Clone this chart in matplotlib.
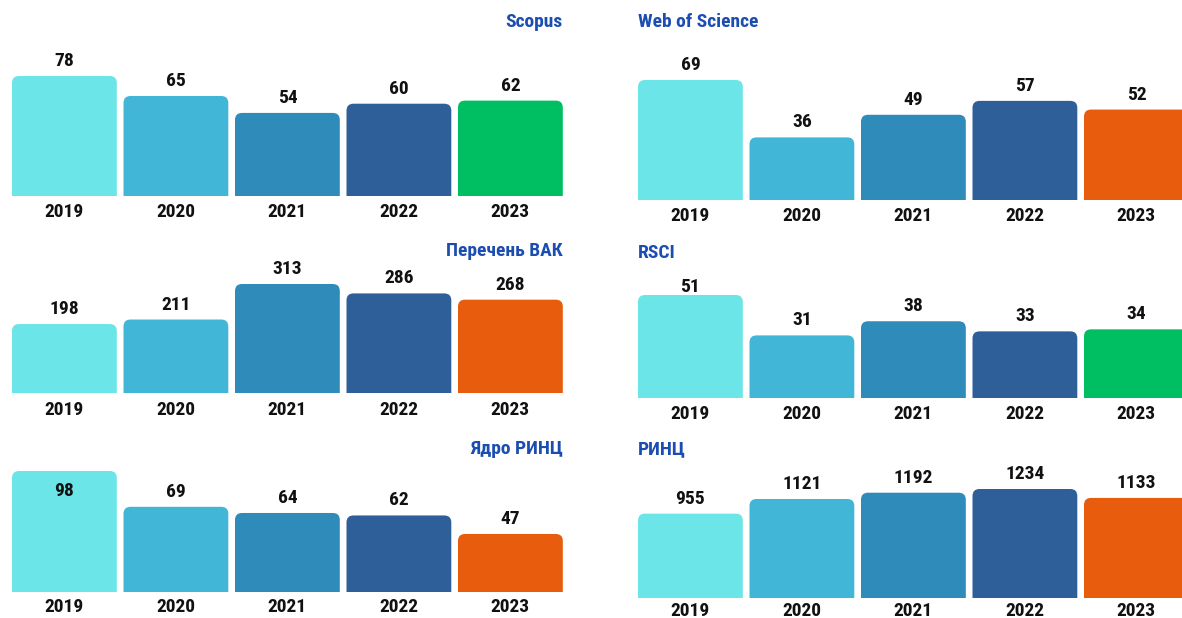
import matplotlib

matplotlib.use("Agg")
import matplotlib.pyplot as plt
from matplotlib import font_manager
from matplotlib.patches import FancyBboxPatch
from matplotlib.transforms import ScaledTranslation

YEARS = ["2019", "2020", "2021", "2022", "2023"]

TITLES = ["Scopus", "Web of Science", "Перечень ВАК", "RSCI", "Ядро РИНЦ", "РИНЦ"]
SCOPUS = [78, 65, 54, 60, 62]
WOS = [69, 36, 49, 57, 52]
VAK = [198, 211, 313, 286, 268]
RSCI = [51, 31, 38, 33, 34]
YADRO_RINC = [98, 69, 64, 62, 47]
RINC = [955, 1121, 1192, 1234, 1133]
SERIES = [SCOPUS, WOS, VAK, RSCI, YADRO_RINC, RINC]

BASE_COLORS = ["#6BE5E8", "#42B6D6", "#2E8BBA", "#2F5F98"]
GREEN = "#00BF63"
ORANGE = "#E85C0E"
LAST_COLORS = [GREEN, ORANGE, ORANGE, GREEN, ORANGE, ORANGE]
TITLE_COLOR = "#1C4DB0"
TEXT_COLOR = "#111111"

# layout, in reference pixels (1182 x 618)
W, H = 1182, 618
PANEL_LEFT = [12, 638, 12, 638, 12, 638]
PANEL_BASE = [196, 200, 393, 398, 592, 598]
PANEL_MAXH = [120, 120, 109, 103, 121, 109]
TITLE_Y = [22, 22, 251, 253, 449, 449]
LABEL_CEIL = [0, 0, 0, 287, 491, 0]
YEAR_OFFSET = [16, 16, 17, 16, 15, 13]
PITCH = 111.5
BAR_W = 0.94
RADIUS = 7
FS = 14


def pick_font(candidates):
    for name in candidates:
        try:
            font_manager.findfont(
                font_manager.FontProperties(family=name, weight="bold"),
                fallback_to_default=False,
            )
            return name
        except ValueError:
            continue
    return "DejaVu Sans"


FONT = pick_font(["Roboto Condensed", "Liberation Sans Narrow", "Open Sans Condensed", "Roboto"])
plt.rcParams["font.family"] = [FONT, "DejaVu Sans"]

fig = plt.figure(figsize=(W / 100, H / 100), dpi=100)
fig.patch.set_facecolor("white")

span = (len(YEARS) - 1) + BAR_W  # data units across the bars
for k, vals in enumerate(SERIES):
    width_px = span * PITCH
    ax = fig.add_axes([PANEL_LEFT[k] / W, 1 - PANEL_BASE[k] / H, width_px / W, PANEL_MAXH[k] / H])
    vmax = max(vals)
    ax.set_xlim(-BAR_W / 2, len(YEARS) - 1 + BAR_W / 2)
    ax.set_ylim(0, vmax)
    ax.axis("off")

    colors = BASE_COLORS + [LAST_COLORS[k]]
    x = list(range(len(YEARS)))
    bars = ax.bar(x, vals, width=BAR_W, color=colors)

    # swap plain bars for ones with rounded tops (bottom part clipped by the axes)
    xpp = span / width_px
    ypp = vmax / PANEL_MAXH[k]
    for b in bars:
        x0, w, h = b.get_x(), b.get_width(), b.get_height()
        b.remove()
        ext = 3 * RADIUS * ypp
        patch = FancyBboxPatch(
            (x0, -ext), w, h + ext,
            boxstyle=f"round,pad=0,rounding_size={RADIUS * xpp}",
            mutation_aspect=ypp / xpp,
            facecolor=b.get_facecolor(), edgecolor="none",
        )
        ax.add_patch(patch)

    year_tr = ax.get_xaxis_transform() + ScaledTranslation(0, -YEAR_OFFSET[k] / 100, fig.dpi_scale_trans)
    for i, v in enumerate(vals):
        top_disp = ax.transData.transform((i, v))[1]
        y_disp = top_disp + 15
        if LABEL_CEIL[k]:
            y_disp = min(y_disp, H - LABEL_CEIL[k])
        y = ax.transData.inverted().transform((0, y_disp))[1]
        ax.text(i, y, str(v), ha="center", va="center", fontsize=FS,
                fontweight="bold", color=TEXT_COLOR, clip_on=False)
        ax.text(i, 0, YEARS[i], ha="center", va="center", fontsize=FS,
                fontweight="bold", color=TEXT_COLOR, clip_on=False, transform=year_tr)

    if k % 2 == 0:
        fig.text((PANEL_LEFT[k] + width_px) / W, 1 - TITLE_Y[k] / H, TITLES[k],
                 ha="right", va="center", fontsize=FS, fontweight="bold", color=TITLE_COLOR)
    else:
        fig.text(PANEL_LEFT[k] / W, 1 - TITLE_Y[k] / H, TITLES[k],
                 ha="left", va="center", fontsize=FS, fontweight="bold", color=TITLE_COLOR)

fig.savefig("out.png", dpi=100, facecolor="white")
